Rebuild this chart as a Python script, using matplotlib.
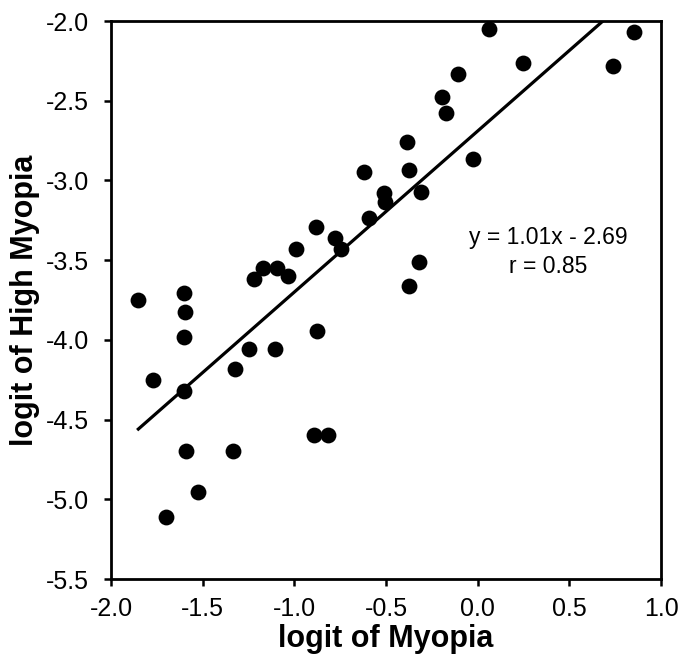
import matplotlib

matplotlib.use('agg')
import matplotlib.pyplot as plt
import numpy as np

plt.rcParams['font.family'] = ['Liberation Sans', 'DejaVu Sans']

# logit values
logit_myopia = [
	-1.851, -1.603, -1.595, -1.603, -1.769, -1.603, -1.324, -1.247, -1.107, -0.876,
	-0.894, -0.818, -1.591, -1.336, -1.527, -1.700, -1.220, -1.169, -1.093, -1.036,
	-0.992, -0.880, -0.780, -0.745, -0.620, -0.591, -0.511, -0.505, 0.062, 0.855,
	0.248, 0.740, -0.106, -0.196, -0.171, -0.384, -0.376, -0.023, -0.310, -0.318,
	-0.373,
]
logit_high_myopia = [
	-3.749, -3.703, -3.823, -3.983, -4.251, -4.320, -4.184, -4.056, -4.056, -3.944,
	-4.594, -4.594, -4.700, -4.700, -4.953, -5.108, -3.620, -3.547, -3.547, -3.597,
	-3.430, -3.290, -3.363, -3.431, -2.949, -3.233, -3.076, -3.133, -2.050, -2.067,
	-2.261, -2.282, -2.330, -2.474, -2.575, -2.757, -2.936, -2.865, -3.074, -3.509,
	-3.661,
]
slope = 1.01
intercept = -2.69
eq_text = 'y = 1.01x - 2.69\nr = 0.85'

fig = plt.figure(figsize=(6.79, 6.65), dpi=100)
ax = fig.add_axes([0.1635, 0.1293, 0.81, 0.8391])

ax.scatter(logit_myopia, logit_high_myopia, s=130, color='black', zorder=3, linewidths=0)

xs = np.array([min(logit_myopia), max(logit_myopia)])
ax.plot(xs, slope * xs + intercept, color='black', lw=2.3, zorder=2)

ax.text(0.385, -3.45, eq_text, ha='center', va='center', fontsize=16.5, linespacing=1.3)

ax.set_xlim(-2.0, 1.0)
ax.set_ylim(-5.5, -2.0)
ax.set_xticks(np.arange(-2.0, 1.01, 0.5))
ax.set_yticks(np.arange(-5.5, -1.99, 0.5))
ax.xaxis.set_major_formatter(matplotlib.ticker.FormatStrFormatter('%.1f'))
ax.yaxis.set_major_formatter(matplotlib.ticker.FormatStrFormatter('%.1f'))
ax.tick_params(direction='out', length=5, width=1.8, labelsize=18)
ax.tick_params(axis='y', pad=11)
ax.tick_params(axis='x', pad=8)
for sp in ax.spines.values():
	sp.set_linewidth(2)

ax.set_xlabel('logit of Myopia', fontsize=22, weight='bold', labelpad=2)
ax.set_ylabel('logit of High Myopia', fontsize=22, weight='bold', labelpad=4)

plt.savefig('out.png', dpi=100)
